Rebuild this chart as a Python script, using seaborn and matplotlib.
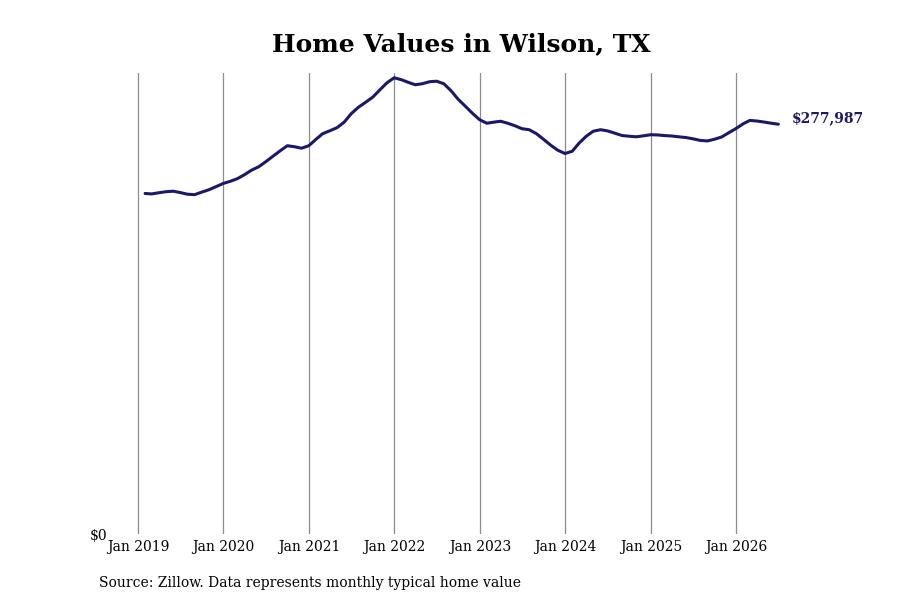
import pandas as pd
import matplotlib
matplotlib.use("Agg")
import matplotlib.pyplot as plt
import matplotlib.dates as mdates
import seaborn as sns

# monthly typical home value, Wilson TX
months = pd.date_range("2019-01-31", "2026-06-30", freq="ME")
values = [
    231000, 230700, 231500, 232200, 232550, 231650, 230500, 230200, 231900, 233550, 235600, 237800,
    239300, 241000, 243750, 246800, 249150, 252550, 256300, 260000, 263400, 262700, 261700, 263400,
    267800, 271550, 273550, 275600, 279350, 285100, 289500, 292900, 296300, 301350, 306100, 309500,
    308150, 306450, 304750, 305450, 306800, 307150, 305450, 300700, 294950, 290200, 285450, 281050,
    278650, 279350, 280000, 278650, 276950, 274950, 274250, 271550, 267800, 263750, 260350, 258100,
    259650, 265100, 269850, 273250, 274250, 273450, 271900, 270300, 269850, 269450, 270100, 270850,
    270700, 270300, 270000, 269450, 268950, 268100, 267000, 266650, 267800, 269350, 272200, 275050,
    278300, 280550, 280150, 279450, 278650, 277987,
]
year_ticks = pd.date_range("2019-01-01", "2026-01-01", freq="YS")

LINE_COLOR = "#1b1868"

sns.set_style("white")
plt.rcParams["font.family"] = ["DejaVu Serif"]
plt.rcParams["text.color"] = "black"
plt.rcParams["xtick.color"] = "black"
plt.rcParams["ytick.color"] = "black"

df = pd.DataFrame({"date": months, "value": values})

fig = plt.figure(figsize=(9, 6), dpi=100)
ax = fig.add_axes([0.126, 0.11, 0.774, 0.768])

sns.lineplot(data=df, x="date", y="value", ax=ax, color=LINE_COLOR, linewidth=2.2)

ax.set_ylim(0, max(values) * 1.01)
ax.set_yticks([0])
ax.set_yticklabels(["$0"])
ax.set_xticks(year_ticks)
ax.xaxis.set_major_formatter(mdates.DateFormatter("Jan %Y"))
ax.tick_params(axis="both", length=0, labelsize=10, pad=4)
ax.grid(axis="x", color="#8c8c8c", linewidth=0.9)
ax.grid(axis="y", visible=False)
for s in ax.spines.values():
    s.set_visible(False)
ax.set_xlabel("")
ax.set_ylabel("")

ax.set_title("Home Values in Wilson, TX", fontsize=18, fontweight="bold", pad=16)

last = df.iloc[-1]
ax.annotate(f"${last['value']:,.0f}", xy=(last["date"], last["value"]),
            xytext=(10, 4), textcoords="offset points", va="center",
            fontsize=10, fontweight="bold", color=LINE_COLOR)

fig.text(0.11, 0.022, "Source: Zillow. Data represents monthly typical home value", fontsize=10)

fig.savefig("out.png", dpi=100)
